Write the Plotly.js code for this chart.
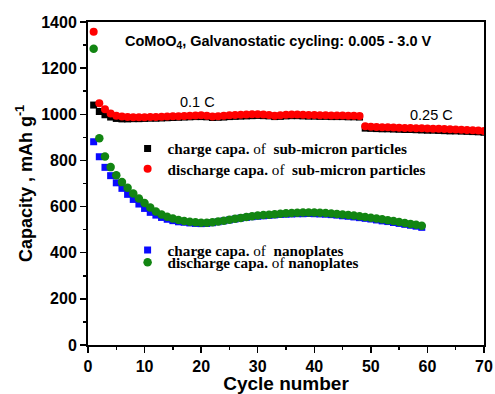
<!DOCTYPE html>
<html>
<head>
<meta charset="utf-8">
<script src="https://cdn.plot.ly/plotly-3.0.1.min.js"></script>
<style>html,body{margin:0;padding:0;background:#fff;}#chart{width:495px;height:394px;}</style>
</head>
<body>
<div id="chart"></div>
<script>
// cycle numbers
const cyclesSub = [1,2,3,4,5,6,7,8,9,10,11,12,13,14,15,16,17,18,19,20,21,22,23,24,25,26,27,28,29,30,31,32,33,34,35,36,37,38,39,40,41,42,43,44,45,46,47,48,49,50,51,52,53,54,55,56,57,58,59,60,61,62,63,64,65,66,67,68,69,70];
const cyclesNano = [1,2,3,4,5,6,7,8,9,10,11,12,13,14,15,16,17,18,19,20,21,22,23,24,25,26,27,28,29,30,31,32,33,34,35,36,37,38,39,40,41,42,43,44,45,46,47,48,49,50,51,52,53,54,55,56,57,58,59];

// sub-micron particles
const chargeSub = [1040,1012,998,988,982,980,980,981,981,982,983,983,984,985,986,987,988,989,990,990,989,986,987,988,990,991,992,993,994,995,994,993,990,991,993,994,994,993,992,992,991,991,990,990,990,989,989,988,
  940,939,938,937,937,936,935,934,934,933,932,931,931,930,929,928,928,927,926,925,924,922];
const dischargeSub = [1358,1048,1022,1003,994,990,988,987,987,987,988,988,989,990,991,992,993,994,995,996,994,990,992,994,996,997,998,999,1000,1000,999,997,994,996,998,999,999,998,997,997,996,996,995,995,995,994,994,993,
  948,946,945,944,944,943,942,941,941,940,939,938,937,937,936,935,934,933,932,931,930,928];

// nanoplates
const chargeNano = [881,816,770,734,703,679,653,631,611,592,575,563,553,545,539,534,532,529,527,526,527,530,534,538,542,546,550,553,556,558,560,562,564,566,567,568,569,569,570,569,568,567,565,563,560,558,555,552,549,546,542,538,535,531,527,523,519,515,510];
const dischargeNano = [1284,896,817,771,736,706,682,657,635,615,596,579,566,556,548,542,537,534,532,530,530,532,535,539,543,547,551,555,558,561,563,565,567,569,571,572,573,574,574,574,573,572,570,568,566,563,561,558,555,552,548,545,541,537,533,529,525,521,517];

// labels
const seriesNames = [
  "<b>charge capa.</b> of  <b>sub-micron particles</b>",
  "<b>discharge capa.</b> of  <b>sub-micron particles</b>",
  "<b>charge capa.</b> of  <b>nanoplates</b>",
  "<b>discharge capa.</b> of <b>nanoplates</b>"
];
const xTicks = [0,10,20,30,40,50,60,70];
const yTicks = [0,200,400,600,800,1000,1200,1400];

const tickFont = {family: "Liberation Sans, Arial, sans-serif", size: 16, color: "#000", weight: "bold"};
const legFont = {family: "Liberation Serif, Times New Roman, serif", size: 15.2, color: "#000"};

const traces = [
  {x: cyclesSub, y: chargeSub, type: "scatter", mode: "markers", name: seriesNames[0], legend: "legend",
   marker: {symbol: "square", size: 7, color: "#000000"}},
  {x: cyclesSub, y: dischargeSub, type: "scatter", mode: "markers", name: seriesNames[1], legend: "legend2",
   marker: {symbol: "circle", size: 8, color: "#ff0000"}},
  {x: cyclesNano, y: chargeNano, type: "scatter", mode: "markers", name: seriesNames[2], legend: "legend3",
   marker: {symbol: "square", size: 7, color: "#0a0aff"}},
  {x: cyclesNano, y: dischargeNano, type: "scatter", mode: "markers", name: seriesNames[3], legend: "legend4",
   marker: {symbol: "circle", size: 8.5, color: "#128512"}}
];

function leg(x, y) {
  return {x: x, y: y, xanchor: "left", yanchor: "middle", bgcolor: "rgba(0,0,0,0)", borderwidth: 0, font: legFont};
}

const layout = {
  width: 495, height: 394,
  margin: {l: 88, r: 11, t: 22, b: 49},
  paper_bgcolor: "#fff", plot_bgcolor: "#fff",
  showlegend: true,
  legend: leg(0.10, 0.608),
  legend2: leg(0.10, 0.545),
  legend3: leg(0.10, 0.294),
  legend4: leg(0.10, 0.256),
  xaxis: {
    range: [0, 70], tickvals: xTicks, ticktext: xTicks.map(String),
    showline: true, linecolor: "#000", linewidth: 2, mirror: true,
    ticks: "outside", ticklen: 6, tickwidth: 1.5, tickcolor: "#000",
    minor: {dtick: 5, ticks: "outside", ticklen: 3, tickwidth: 1.5, tickcolor: "#000"},
    showgrid: false, zeroline: false, tickfont: tickFont,
    title: {text: "Cycle number", font: {family: "Liberation Sans, Arial, sans-serif", size: 19, color: "#000", weight: "bold"}, standoff: 6}
  },
  yaxis: {
    range: [0, 1400], tickvals: yTicks, ticktext: yTicks.map(String),
    showline: true, linecolor: "#000", linewidth: 2, mirror: true,
    ticks: "outside", ticklen: 6, tickwidth: 1.5, tickcolor: "#000",
    minor: {dtick: 100, ticks: "outside", ticklen: 3, tickwidth: 1.5, tickcolor: "#000"},
    showgrid: false, zeroline: false, tickfont: tickFont,
    title: {text: "Capacity , mAh g<sup>-1</sup>", font: {family: "Liberation Sans, Arial, sans-serif", size: 18, color: "#000", weight: "bold"}, standoff: 4}
  },
  annotations: [
    {xref: "paper", yref: "paper", x: 0.088, y: 0.938, xanchor: "left", yanchor: "middle", showarrow: false,
     text: "CoMoO<sub>4</sub>, Galvanostatic cycling: 0.005 - 3.0 V",
     font: {family: "Liberation Sans, Arial, sans-serif", size: 14.5, color: "#000", weight: "bold"}},
    {xref: "x", yref: "y", x: 19.4, y: 1055, showarrow: false, text: "0.1 C",
     font: {family: "Liberation Sans, Arial, sans-serif", size: 14.5, color: "#000"}},
    {xref: "x", yref: "y", x: 60.8, y: 997, showarrow: false, text: "0.25 C",
     font: {family: "Liberation Sans, Arial, sans-serif", size: 14.5, color: "#000"}}
  ]
};

Plotly.newPlot("chart", traces, layout, {staticPlot: true, displayModeBar: false});
</script>
</body>
</html>
